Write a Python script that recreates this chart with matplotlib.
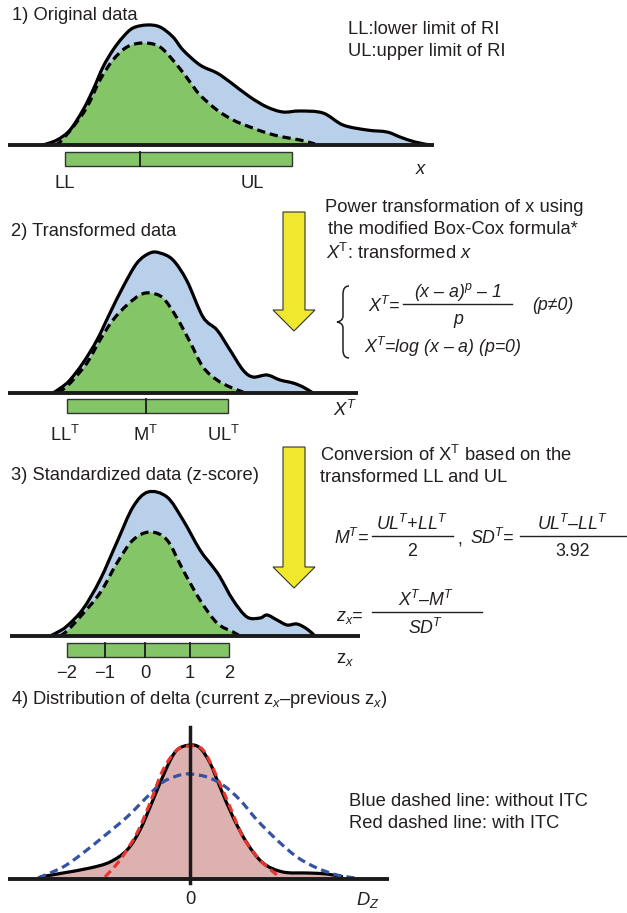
import numpy as np
import matplotlib
matplotlib.use("Agg")
import matplotlib.pyplot as plt
from matplotlib.patches import Rectangle, FancyArrow, PathPatch
from matplotlib.path import Path

plt.rcParams['font.family'] = ['Liberation Sans', 'DejaVu Sans']
plt.rcParams['mathtext.fontset'] = 'custom'
plt.rcParams['mathtext.rm'] = 'Liberation Sans'
plt.rcParams['mathtext.it'] = 'Liberation Sans:italic'
plt.rcParams['mathtext.bf'] = 'Liberation Sans:bold'

# ---- curve samples (x position, height above the baseline) ----
# 1) original data
orig_x = [43, 57, 70, 83, 93, 103, 113, 123, 133, 147, 160, 173, 183, 200, 217, 230,
          250, 267, 283, 300, 323, 343, 367, 387, 400, 415, 430]
orig_h = [0, 5, 15, 35, 55, 78, 95, 108, 117, 120, 118, 108, 95, 80, 72, 63,
          48, 38, 33, 34, 32, 20, 15, 13, 8, 3, 0]
orig_ri_x = [55, 60, 73, 87, 100, 113, 127, 143, 160, 177, 190, 200, 217,
             233, 250, 267, 283, 300, 315]
orig_ri_h = [0, 3, 18, 38, 65, 85, 98, 102, 98, 80, 63, 50, 35,
             25, 18, 12, 8, 5, 1]

# 2) transformed data
trans_x = [53, 62, 70, 83, 97, 110, 123, 137, 150, 160, 173, 187, 203, 217, 230,
           243, 253, 267, 280, 293, 303, 313]
trans_h = [0, 6, 13, 30, 53, 80, 106, 130, 140, 140, 133, 112, 76, 63, 43,
           23, 16, 18, 13, 10, 6, 0]
trans_ri_x = [58, 66, 73, 87, 100, 113, 127, 140, 150, 163, 177, 190, 203, 217, 230, 243]
trans_ri_h = [0, 6, 13, 30, 53, 73, 88, 98, 100, 95, 75, 51, 26, 13, 6, 1]

# 3) standardized data
std_x = [50, 58, 67, 83, 100, 117, 133, 148, 167, 183, 200, 213, 220, 233, 247,
         260, 267, 277, 287, 297, 307, 315]
std_h = [0, 4, 10, 27, 56, 94, 129, 144, 139, 116, 86, 69, 59, 36, 19,
         18, 21, 16, 11, 12, 7, 0]
std_ri_x = [60, 67, 80, 100, 117, 133, 150, 167, 183, 200, 217, 233, 240]
std_ri_h = [0, 5, 19, 43, 73, 96, 104, 96, 66, 36, 13, 4, 0]
z_labels = ['\u22122', '\u22121', '0', '1', '2']

# 4) distribution of delta
delta_x = [40, 63, 90, 110, 127, 140, 153, 167, 177, 190, 200, 210, 220, 233, 247,
           263, 283, 307, 327, 343]
delta_h = [2, 6, 11, 17, 29, 49, 79, 112, 129, 134, 131, 116, 92, 62, 36,
           16, 7, 6, 5, 2]
with_itc_x = [105, 120, 137, 150, 163, 177, 190, 203, 217, 230, 243, 260, 277]
with_itc_h = [2, 19, 46, 76, 109, 129, 133, 129, 102, 72, 42, 19, 4]
without_itc_x = [38, 63, 83, 103, 127, 147, 163, 180, 190, 207, 223, 240, 257, 277,
                 297, 317, 337, 355]
without_itc_h = [1, 12, 26, 42, 62, 82, 97, 104, 105, 102, 94, 79, 59, 39,
                 22, 11, 4, 1]

BLUE_FILL = '#b9d0ea'
GREEN = '#84c567'
YELLOW = '#efe82c'
PINK = '#deb1b1'
RED = '#e8352e'
NAVY = '#3552a3'
TXT = '#231f20'
FS = 13.2

fig = plt.figure(figsize=(6.27, 9.13), dpi=100)
ax = fig.add_axes([0, 0, 1, 1])
ax.set_xlim(0, 627)
ax.set_ylim(913, 0)
ax.axis('off')


def smooth_path(xs, ys):
    # draw a smooth bezier through the read points (catmull-rom handles)
    p = np.column_stack([xs, ys]).astype(float)
    ext = np.vstack([p[0], p, p[-1]])
    verts = [p[0]]
    codes = [Path.MOVETO]
    for i in range(1, len(ext) - 2):
        c1 = ext[i] + (ext[i + 1] - ext[i - 1]) / 6.0
        c2 = ext[i + 1] - (ext[i + 2] - ext[i]) / 6.0
        verts += [c1, c2, ext[i + 1]]
        codes += [Path.CURVE4] * 3
    return verts, codes


def density(xs, hs, base, dashed=False, fill=None, color='black'):
    ys = base - np.asarray(hs, float)
    verts, codes = smooth_path(xs, ys)
    if fill:
        fv = verts + [(xs[-1], base), (xs[0], base), (xs[0], base)]
        fc = codes + [Path.LINETO, Path.LINETO, Path.CLOSEPOLY]
        ax.add_patch(PathPatch(Path(fv, fc), facecolor=fill, lw=0, zorder=2))
    ls = (0, (2.6, 1.5)) if dashed else '-'
    ax.add_patch(PathPatch(Path(verts, codes), facecolor='none', edgecolor=color,
                           lw=2.3, linestyle=ls, joinstyle='round', zorder=4))


def baseline(x0, x1, y):
    ax.plot([x0, x1], [y, y], color='#1a1a1a', lw=2.8, solid_capstyle='butt', zorder=5)


def txt(x, y, s, ha='left', **kw):
    kw.setdefault('fontsize', FS)
    ax.text(x, y, s, ha=ha, va='center', color=TXT, **kw)


def arrow(x, y0, y1):
    ax.add_patch(FancyArrow(x, y0, 0, y1 - y0, width=22, head_width=42, head_length=21,
                            length_includes_head=True, facecolor=YELLOW,
                            edgecolor='#333333', lw=0.8, zorder=3))


def frac(xc, x0, x1, y, num, den, den_style='italic'):
    txt(xc, y - 12, num, ha='center', style='italic', fontsize=12.8)
    ax.plot([x0, x1], [y, y], color=TXT, lw=1.0)
    txt(xc, y + 16, den, ha='center', style=den_style, fontsize=12.8)


# ---------------- panel 1 ----------------
txt(12, 15, '1) Original data')
txt(348, 29, 'LL:lower limit of RI')
txt(348, 52, 'UL:upper limit of RI')
density(orig_x, orig_h, 145, fill=BLUE_FILL)
density(orig_ri_x, orig_ri_h, 145, dashed=True, fill=GREEN)
baseline(8, 434, 145)
ax.add_patch(Rectangle((65, 152), 227, 14, facecolor=GREEN, edgecolor='#333333', lw=1))
ax.plot([140, 140], [152, 166], color='#1a1a1a', lw=1.3)
txt(65, 184, 'LL', ha='center')
txt(252, 184, 'UL', ha='center')
txt(420, 170, 'x', ha='center', style='italic')

# ---------------- panel 2 ----------------
txt(11, 231, '2) Transformed data')
arrow(294, 212, 331)
density(trans_x, trans_h, 393, fill=BLUE_FILL)
density(trans_ri_x, trans_ri_h, 393, dashed=True, fill=GREEN)
baseline(8, 358, 393)
ax.add_patch(Rectangle((67, 399), 161, 14, facecolor=GREEN, edgecolor='#333333', lw=1))
ax.plot([146, 146], [399, 413], color='#1a1a1a', lw=1.3)
txt(65, 435, r'LL$^{\mathrm{T}}$', ha='center')
txt(146, 435, r'M$^{\mathrm{T}}$', ha='center')
txt(224, 435, r'UL$^{\mathrm{T}}$', ha='center')
txt(345, 410, r'$X^{T}$', ha='center')

txt(325, 207, 'Power transformation of x using')
txt(328, 230, 'the modified Box-Cox formula*')
txt(326, 253, r'$X$$^{\mathrm{T}}$: transformed $x$')
brace = Path([(349, 286), (343, 286), (343, 294), (343, 316), (343, 321), (337, 322),
              (343, 323), (343, 328), (343, 350), (343, 358), (349, 358)],
             [Path.MOVETO, Path.CURVE3, Path.CURVE3, Path.LINETO, Path.CURVE3, Path.CURVE3,
              Path.CURVE3, Path.CURVE3, Path.LINETO, Path.CURVE3, Path.CURVE3])
ax.add_patch(PathPatch(brace, facecolor='none', edgecolor=TXT, lw=1.1))
txt(368, 306, r'X$^{T}$=', style='italic', fontsize=12.8)
frac(458, 403, 512, 304, '(x \u2013 a)$^{p}$ \u2013 1', 'p')
txt(532, 306, '(p\u22600)', style='italic', fontsize=12.8)
txt(364, 347, 'X$^{T}$=log (x \u2013 a) (p=0)', style='italic', fontsize=12.8)

# ---------------- panel 3 ----------------
txt(11, 475, '3) Standardized data (z-score)')
arrow(294, 447, 588)
density(std_x, std_h, 636, fill=BLUE_FILL)
density(std_ri_x, std_ri_h, 636, dashed=True, fill=GREEN)
baseline(10, 360, 636)
z_pos = [67, 105, 145, 190, 229]
ax.add_patch(Rectangle((z_pos[0], 643), z_pos[-1] - z_pos[0], 14, facecolor=GREEN,
                       edgecolor='#333333', lw=1))
for xp in z_pos[1:-1]:
    ax.plot([xp, xp], [643, 657], color='#1a1a1a', lw=1.3)
for xp, lab in zip(z_pos, z_labels):
    txt(xp, 673, lab, ha='center')
txt(345, 660, r'z$_{x}$', ha='center')

txt(320, 455, r'Conversion of X$^{\mathrm{T}}$ based on the')
txt(320, 478, 'transformed LL and UL')
txt(334, 538, r'M$^{T}$=', style='italic', fontsize=12.8)
frac(412, 372, 453, 536, r'UL$^{T}$+LL$^{T}$', '2', den_style='normal')
txt(457, 540, ',', fontsize=12.8)
txt(470, 538, r'SD$^{T}$=', style='italic', fontsize=12.8)
frac(573, 520, 626, 536, 'UL$^{T}$\u2013LL$^{T}$', '3.92', den_style='normal')
txt(336, 617, r'z$_{x}$=', style='italic', fontsize=12.8)
frac(426, 372, 482, 612, 'X$^{T}$\u2013M$^{T}$', r'SD$^{T}$')

# ---------------- panel 4 ----------------
txt(11, 700, '4) Distribution of delta (current z$_{x}$\u2013previous z$_{x}$)')
density(delta_x, delta_h, 879, fill=PINK)
density(without_itc_x, without_itc_h, 879, dashed=True, color=NAVY)
density(with_itc_x, with_itc_h, 879, dashed=True, color=RED)
baseline(8, 389, 879)
ax.plot([190, 190], [727, 883], color='#1a1a1a', lw=2.5, zorder=6)
txt(190, 900, '0', ha='center')
txt(368, 900, r'$D_{Z}$', ha='center')
txt(349, 802, 'Blue dashed line: without ITC')
txt(349, 824, 'Red dashed line: with ITC')

fig.savefig('out.png', dpi=100)
